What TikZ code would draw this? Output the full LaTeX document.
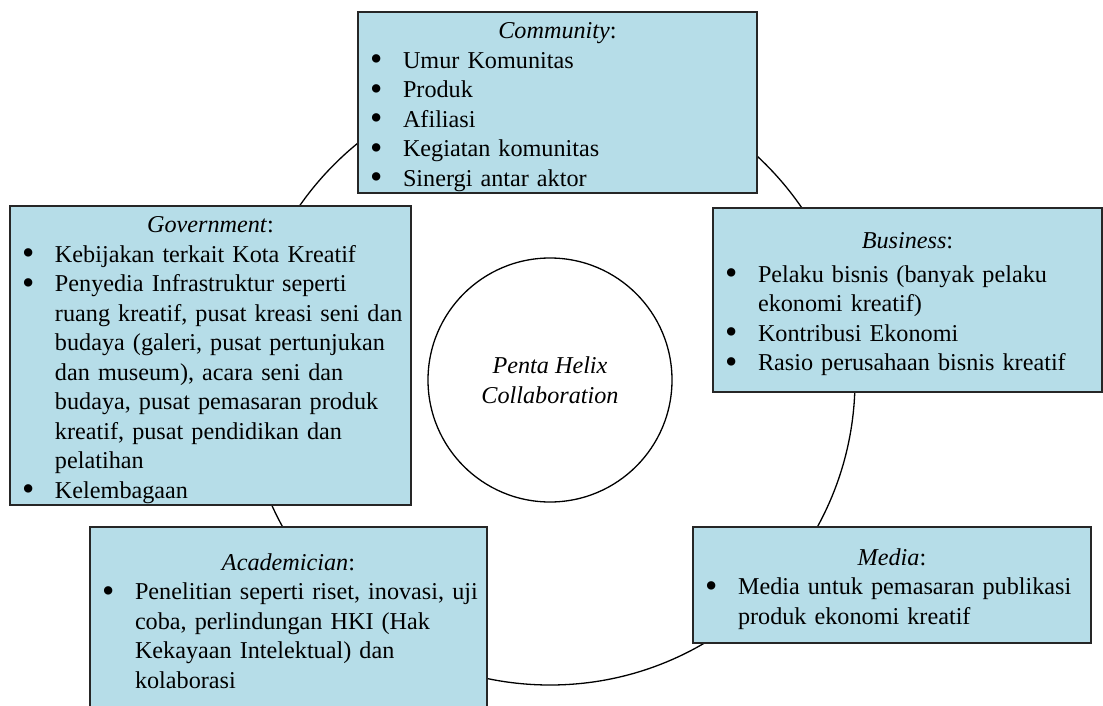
\documentclass[tikz,border=0pt]{standalone}
\usepackage{fontspec}
\setmainfont{Liberation Serif}
\usepackage{xcolor}
\usepackage{tikz}

\definecolor{helixblue}{HTML}{B6DDE8}
\newcommand{\hxitem}[1]{\par\noindent\hangindent=39pt\hangafter=1\makebox[39pt][l]{\hspace{6pt}\raisebox{-2.5pt}{\scalebox{1.45}{\textbullet}}}#1\par}
\newcommand{\hxtitle}[1]{{\centering\rule{0pt}{25pt}\textit{#1}:\par}}

\begin{document}
\begin{tikzpicture}[x=1pt, y=-1pt,
		helixbox/.style={draw=black!85, line width=1.4pt, fill=helixblue, inner xsep=6pt, inner ysep=0pt, align=left, font=\fontsize{24.2pt}{29.5pt}\selectfont},
		ring/.style={circle, draw, line width=1.3pt, minimum size=610pt, inner sep=0pt},
		hub/.style={circle, draw, line width=1.3pt, fill=white, minimum size=244pt, inner sep=0pt, align=center, font=\fontsize{24.2pt}{29.5pt}\selectfont\itshape}
		]
		\useasboundingbox (0,0) rectangle (1103,706);
		
		\node[ring] (ring) at (550,380) {};
		
		\node[helixbox, text width=387pt, minimum height=181pt] (community) at (557.5,102.5) {\hxtitle{Community}
			\hxitem{Umur Komunitas}
			\hxitem{Produk}
			\hxitem{Afiliasi}
			\hxitem{Kegiatan komunitas}
			\hxitem{Sinergi antar aktor}};
		
		\node[helixbox, text width=389pt, minimum height=299pt] (government) at (210.5,355.5) {\hxtitle{Government}
			\hxitem{Kebijakan terkait Kota Kreatif}
			\hxitem{Penyedia Infrastruktur seperti\newline ruang kreatif, pusat kreasi seni dan\newline budaya (galeri, pusat pertunjukan\newline dan museum), acara seni dan\newline budaya, pusat pemasaran produk\newline kreatif, pusat pendidikan dan\newline pelatihan}
			\hxitem{Kelembagaan}};
		
		\node[helixbox, text width=377pt, minimum height=184pt] (business) at (907.5,300) {\hxtitle{Business}\vspace{4pt}
			\hxitem{Pelaku bisnis (banyak pelaku\newline ekonomi kreatif)}
			\hxitem{Kontribusi Ekonomi}
			\hxitem{Rasio perusahaan bisnis kreatif}};
		
		\node[helixbox, text width=386pt, minimum height=116pt] (media) at (892,585) {\hxtitle{Media}
			\hxitem{Media untuk pemasaran publikasi\newline produk ekonomi kreatif}};
		
		\node[helixbox, text width=385pt, minimum height=180pt] (academician) at (288.5,617) {\hxtitle{Academician}
			\hxitem{Penelitian seperti riset, inovasi, uji\newline coba, perlindungan HKI (Hak\newline Kekayaan Intelektual) dan\newline kolaborasi}};
		
		\node[hub] (hub) at (550,380) {Penta Helix\\Collaboration};
\end{tikzpicture}
\end{document}
